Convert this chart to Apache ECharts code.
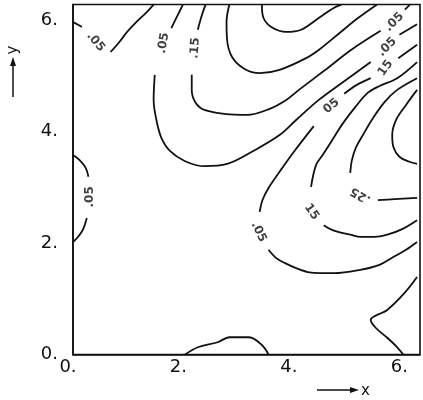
<!DOCTYPE html>
<html>
<head>
<meta charset="utf-8">
<script src="https://cdn.jsdelivr.net/npm/echarts@6/dist/echarts.min.js"></script>
<style>
  html, body { margin: 0; padding: 0; background: #fff; }
  #main { width: 423px; height: 400px; }
</style>
</head>
<body>
<div id="main"></div>
<script>
// contour pieces, [x, y] in plot units (breaks are where the labels sit)
var cornerA1 = [[0, 5.97], [0.09, 5.92], [0.16, 5.88]];
var cornerA2 = [[0.68, 5.43], [0.84, 5.61], [0.98, 5.79], [1.19, 6.01], [1.34, 6.15], [1.46, 6.28]];
var valleyB1 = [[1.99, 6.28], [1.90, 6.10], [1.78, 5.86]];
var valleyB2 = [[1.48, 5.02], [1.46, 4.57], [1.51, 4.21], [1.60, 3.89], [1.76, 3.65], [2.03, 3.47],
                [2.38, 3.38], [2.79, 3.42], [3.24, 3.64], [3.74, 3.94], [4.04, 4.21], [4.45, 4.57],
                [4.86, 4.87], [5.39, 5.25]];
var valleyB3 = [[5.91, 5.74], [6.23, 5.93]];
var peak15a = [[2.40, 6.28], [2.33, 6.08], [2.26, 5.83]];
var peak15b = [[2.15, 5.02], [2.15, 4.75], [2.22, 4.52], [2.38, 4.39], [2.74, 4.32], [3.15, 4.30],
               [3.56, 4.41], [3.86, 4.57], [4.09, 4.75], [4.57, 5.11], [5.04, 5.47], [5.57, 5.81]];
var peak15c = [[6.01, 6.19], [6.10, 6.28]];
var peak25 = [[2.83, 6.28], [2.78, 5.97], [2.79, 5.65], [2.88, 5.34], [3.10, 5.13], [3.38, 5.05],
              [3.74, 5.11], [4.22, 5.32], [4.48, 5.49], [4.80, 5.75], [5.16, 6.04], [5.50, 6.28]];
var peak35 = [[3.42, 6.28], [3.45, 6.04], [3.59, 5.88], [3.86, 5.79], [4.13, 5.83], [4.45, 6.04],
              [4.72, 6.22], [4.86, 6.28]];
var right05a = [[3.38, 2.56], [3.43, 2.77], [3.54, 2.99], [3.74, 3.28], [4.00, 3.64], [4.36, 4.10]];
var right05b = [[4.91, 4.68], [5.14, 4.84], [5.39, 4.96]];
var right05c = [[5.89, 5.32], [6.23, 5.56]];
var right05d = [[3.54, 1.88], [3.68, 1.73], [3.84, 1.64], [4.04, 1.55], [4.25, 1.48], [4.48, 1.46],
                [4.73, 1.46], [5.20, 1.52], [5.55, 1.61], [5.80, 1.75], [6.03, 1.88], [6.23, 2.02]];
var right15a = [[4.31, 3.01], [4.40, 3.40], [4.52, 3.58], [4.72, 3.89], [4.88, 4.14], [5.11, 4.44],
                [5.34, 4.70], [5.55, 4.82], [5.87, 4.96], [6.23, 5.25]];
var right15b = [[4.54, 2.32], [4.66, 2.25], [4.80, 2.20], [5.02, 2.15], [5.21, 2.11], [5.46, 2.11],
                [5.69, 2.15], [5.96, 2.25], [6.23, 2.41]];
var right25a = [[5.02, 3.26], [5.05, 3.49], [5.12, 3.71], [5.25, 3.94], [5.41, 4.21], [5.64, 4.53],
                [5.87, 4.75], [6.23, 4.96]];
var right25b = [[5.52, 2.77], [5.82, 2.79], [6.23, 2.81]];
var right35 = [[6.23, 4.75], [6.03, 4.48], [5.85, 4.21], [5.78, 3.94], [5.80, 3.73], [5.91, 3.55],
               [6.09, 3.46], [6.23, 3.42]];
var left05a = [[0, 3.58], [0.12, 3.49], [0.23, 3.35], [0.28, 3.19]];
var left05b = [[0.25, 2.45], [0.18, 2.24], [0.09, 2.11], [0, 2.02]];
var bottomBump = [[2.03, 0], [2.26, 0.13], [2.62, 0.22], [2.83, 0.31], [3.19, 0.31], [3.42, 0.17], [3.54, 0]];
var bottomRight = [[6.23, 1.39], [6.00, 1.10], [5.69, 0.80], [5.39, 0.62], [5.48, 0.48], [5.69, 0.30],
                   [5.87, 0.13], [5.98, 0]];

// contour labels
var labelText = ['.05', '.05', '.15', '05', '.05', '.05', '15', '.05', '15', '.25', '.05'];
var labelX    = [0.41, 1.64, 2.21, 4.68, 5.82, 5.69, 5.66, 3.36, 4.32, 5.21, 0.30];
var labelY    = [5.61, 5.59, 5.50, 4.46, 5.97, 5.52, 5.14, 2.20, 2.56, 2.86, 2.83];
var labelRot  = [-50, 80, 85, 40, 45, 45, 55, -65, -55, 150, 90];

var ticks = [0, 2, 4, 6];

var myChart = echarts.init(document.getElementById('main'));

var pieces = [cornerA1, cornerA2, valleyB1, valleyB2, valleyB3, peak15a, peak15b, peak15c,
              peak25, peak35, right05a, right05b, right05c, right05d, right15a, right15b,
              right25a, right25b, right35, left05a, left05b, bottomBump, bottomRight];

var series = pieces.map(function (p) {
    return {
        type: 'line',
        data: p,
        showSymbol: false,
        smooth: 0.35,
        silent: true,
        lineStyle: { color: '#111', width: 1.8 }
    };
});

series.push({
    type: 'scatter',
    symbolSize: 0,
    silent: true,
    data: labelX.map(function (x, i) {
        return {
            value: [x, labelY[i]],
            label: { formatter: labelText[i], rotate: labelRot[i] }
        };
    }),
    label: {
        show: true,
        position: 'inside',
        color: '#111',
        fontSize: 12,
        fontWeight: 'bold',
        fontFamily: 'DejaVu Sans'
    }
});

function tickLabel(v) {
    return ticks.indexOf(v) >= 0 ? v + '.' : '';
}

var option = {
    animation: false,
    backgroundColor: '#fff',
    grid: {
        left: 73, top: 4.5, right: -3, bottom: 45.5,
        show: true, borderColor: '#111', borderWidth: 1.6
    },
    xAxis: {
        type: 'value', min: 0, max: 6.283, interval: 2,
        splitLine: { show: false },
        axisLine: { lineStyle: { color: '#111', width: 1.6 } },
        axisTick: { show: false },
        axisLabel: {
            margin: 4,
            formatter: function (v) {
                var t = tickLabel(v);
                return t ? '{a|' + t + '}' : '';
            },
            rich: { a: { fontFamily: 'DejaVu Sans', fontSize: 18, color: '#111', padding: [0, 10, 0, 0] } }
        }
    },
    yAxis: {
        type: 'value', min: 0, max: 6.283, interval: 2,
        splitLine: { show: false },
        axisLine: { lineStyle: { color: '#111', width: 1.6 } },
        axisTick: { show: false },
        axisLabel: {
            margin: 15,
            formatter: tickLabel,
            fontFamily: 'DejaVu Sans', fontSize: 18, color: '#111'
        }
    },
    graphic: [
        { type: 'line', shape: { x1: 13, y1: 97, x2: 13, y2: 64 }, style: { stroke: '#111', lineWidth: 1.5 } },
        { type: 'polygon', shape: { points: [[13, 57], [10, 66], [16, 66]] }, style: { fill: '#111' } },
        { type: 'text', x: 13, y: 50, rotation: Math.PI / 2,
          style: { text: 'y', font: '15px "DejaVu Sans"', fill: '#111', align: 'center', verticalAlign: 'middle' } },
        { type: 'line', shape: { x1: 317, y1: 390, x2: 352, y2: 390 }, style: { stroke: '#111', lineWidth: 1.5 } },
        { type: 'polygon', shape: { points: [[359, 390], [350, 387], [350, 393]] }, style: { fill: '#111' } },
        { type: 'text', x: 361, y: 391,
          style: { text: 'x', font: '15px "DejaVu Sans"', fill: '#111', align: 'left', verticalAlign: 'middle' } }
    ],
    series: series
};

myChart.setOption(option);
</script>
</body>
</html>
